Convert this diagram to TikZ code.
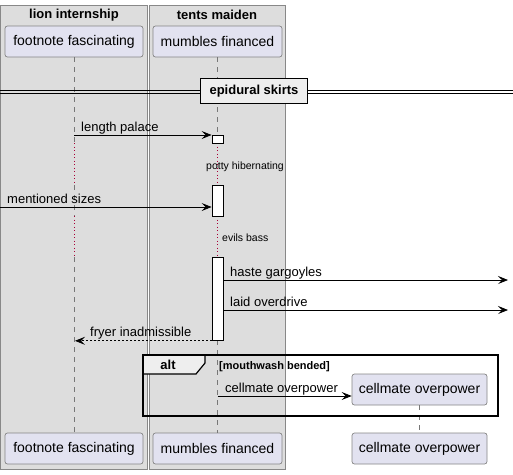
\documentclass[tikz,border=0pt]{standalone}
\usepackage{fontspec}
\setmainfont{Liberation Sans}
\usetikzlibrary{arrows.meta}
\definecolor{pfill}{HTML}{E2E2F0}
\definecolor{pdraw}{HTML}{858585}
\definecolor{boxfill}{HTML}{DDDDDD}
\definecolor{boxdraw}{HTML}{888888}
\definecolor{delayc}{HTML}{A80036}
\definecolor{lifec}{HTML}{777777}
\definecolor{tabfill}{HTML}{EEEEEE}
\begin{document}
\begin{tikzpicture}[x=1pt,y=-1pt,
  part/.style={draw=pdraw, fill=pfill, rounded corners=2.5pt, minimum height=31pt, inner sep=0pt, font=\fontsize{14}{16}\selectfont, line width=0.7pt},
  grpbox/.style={draw=boxdraw, fill=boxfill, line width=0.8pt},
  grptitle/.style={font=\bfseries\fontsize{13}{15}\selectfont, inner sep=0pt},
  life/.style={draw=lifec, dash pattern=on 5pt off 5pt, line width=0.6pt},
  delay/.style={draw=delayc, dash pattern=on 1pt off 2.5pt, line width=0.8pt},
  actbox/.style={draw=black, fill=white, minimum width=11pt, inner sep=0pt, anchor=north, line width=0.8pt},
  msg/.style={-{Stealth[length=10pt,width=8pt,inset=4pt]}, line width=0.8pt},
  rmsg/.style={-{Stealth[length=10pt,width=8pt,inset=4pt]}, line width=0.8pt, dash pattern=on 2pt off 2pt},
  lbl/.style={font=\fontsize{13}{15}\selectfont, inner sep=0pt, anchor=base west},
  small/.style={font=\fontsize{10.5}{12}\selectfont, inner sep=0pt, anchor=base west},
]
\useasboundingbox (0,0) rectangle (513,474);

% group boxes
\draw[grpbox] (0,5) rectangle (147,469);
\draw[grpbox] (149,5) rectangle (285,469);
\node[grptitle] (g1) at (74,15) {lion internship};
\node[grptitle] (g2) at (217,15) {tents maiden};

% participants
\node[part, minimum width=138pt] (ff) at (74,41.5) {footnote fascinating};
\node[part, minimum width=129pt] (mf) at (217.5,41.5) {mumbles financed};
\node[part, minimum width=138pt] (ffb) at (74,448.5) {footnote fascinating};
\node[part, minimum width=129pt] (mfb) at (217.5,448.5) {mumbles financed};

% lifeline 1
\draw[life] (ff.south -| 74,0) -- (74,143);
\draw[delay] (74,143) -- (74,185);
\draw[life] (74,185) -- (74,216);
\draw[delay] (74,216) -- (74,257);
\draw[life] (74,257) -- (ffb.north -| 74,0);

% lifeline 2
\draw[life] (217.5,57) -- (217.5,135);
\draw[delay] (217.5,143) -- (217.5,185);
\draw[delay] (217.5,216) -- (217.5,257);
\draw[life] (217.5,340) -- (mfb.north -| 217.5,0);

% divider
\draw[line width=0.8pt] (0,90) -- (513,90);
\draw[line width=0.8pt] (0,93.5) -- (513,93.5);
\node[draw=black, fill=tabfill, line width=1.5pt, minimum width=107pt, minimum height=25pt, inner sep=0pt, font=\bfseries\fontsize{13}{15}\selectfont] (div) at (254,91) {epidural skirts};

% activations
\node[actbox, minimum height=8pt] (a1) at (217.5,135) {};
\node[actbox, minimum height=31pt] (a2) at (217.5,185) {};
\node[actbox, minimum height=83pt] (a3) at (217.5,257) {};

% delay labels
\node[small] (dl1) at (206,169) {potty hibernating};
\node[small] (dl2) at (222,241) {evils bass};

% messages
\coordinate (lpS) at (74,135);
\draw[msg] (lpS) -- (a1.north west);
\node[lbl] (lpT) at (81,131) {length palace};

\coordinate (msS) at (0,207);
\draw[msg] (msS) -- (msS -| a2.west);
\node[lbl] (msT) at (7,203) {mentioned sizes};

\coordinate (hgE) at (508,280);
\draw[msg] (hgE -| a3.east) -- (hgE);
\node[lbl] (hgT) at (230,276) {haste gargoyles};

\coordinate (loE) at (508,310);
\draw[msg] (loE -| a3.east) -- (loE);
\node[lbl] (loT) at (230,306) {laid overdrive};

\draw[rmsg] (a3.south west) -- (a3.south west -| 75,0);
\node[lbl] (fiT) at (90,336) {fryer inadmissible};

% alt fragment
\node[part, minimum width=135pt] (co) at (419.5,389.5) {cellmate overpower};
\node[part, minimum width=135pt] (cob) at (419.5,448.5) {cellmate overpower};
\draw[life] (co.south) -- (cob.north);

\coordinate (coS) at (217.5,396);
\draw[msg] (coS) -- (coS -| co.west);
\node[lbl] (coT) at (225,392) {cellmate overpower};

\draw[fill=tabfill, line width=1.2pt] (143,355) -- (205,355) -- (205,363) -- (196,374) -- (143,374) -- cycle;
\draw[line width=1.5pt] (143,355) rectangle (498,416);
\node[font=\bfseries\fontsize{13}{15}\selectfont, inner sep=0pt] (altT) at (168,365) {alt};
\node[font=\bfseries\fontsize{11}{13}\selectfont, inner sep=0pt, anchor=base west] (cond) at (219,369) {[mouthwash bended]};
\end{tikzpicture}
\end{document}
